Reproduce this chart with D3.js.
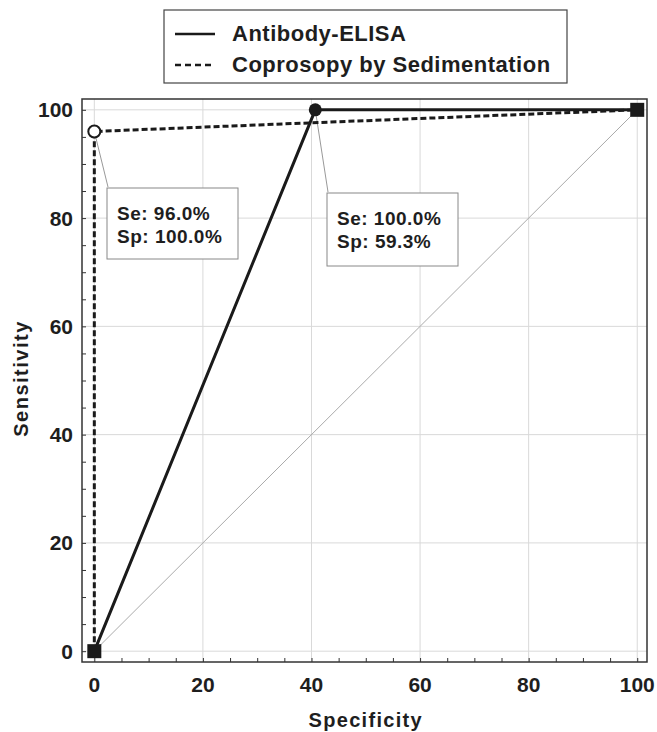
<!DOCTYPE html>
<html>
<head>
<meta charset="utf-8">
<script src="https://cdn.jsdelivr.net/npm/d3@7"></script>
<style>
  body { margin: 0; background: #fff; }
  text { font-family: "Liberation Sans", Arial, sans-serif; font-weight: bold; fill: #1e1e1e; }
</style>
</head>
<body>
<div id="chart"></div>
<script>
// data
var seriesNames = ["Antibody-ELISA", "Coprosopy by Sedimentation"];
var elisaX = [0, 40.7, 100];
var elisaY = [0, 100, 100];
var coproX = [0, 0, 100];
var coproY = [0, 96, 100];
var tickValues = [0, 20, 40, 60, 80, 100];
var cutoffLabels = [["Se: 96.0%", "Sp: 100.0%"], ["Se: 100.0%", "Sp: 59.3%"]];

var svgWidth = 657;
var svgHeight = 732;

var frame = { left: 82, right: 647, top: 99, bottom: 662 };

var svg = d3.select("#chart")
  .append("svg")
  .attr("width", svgWidth)
  .attr("height", svgHeight);

var x = d3.scaleLinear().domain([-2.27, 101.8]).range([frame.left, frame.right]);
var y = d3.scaleLinear().domain([-2.0, 102.0]).range([frame.bottom, frame.top]);

// grid
svg.append("g").selectAll("line.gx")
  .data(tickValues).enter().append("line")
  .attr("x1", d => x(d)).attr("x2", d => x(d))
  .attr("y1", frame.top).attr("y2", frame.bottom)
  .attr("stroke", "#d9d9d9").attr("stroke-width", 1);
svg.append("g").selectAll("line.gy")
  .data(tickValues).enter().append("line")
  .attr("y1", d => y(d)).attr("y2", d => y(d))
  .attr("x1", frame.left).attr("x2", frame.right)
  .attr("stroke", "#d9d9d9").attr("stroke-width", 1);

// diagonal reference
svg.append("line")
  .attr("x1", x(0)).attr("y1", y(0))
  .attr("x2", x(100)).attr("y2", y(100))
  .attr("stroke", "#aaa").attr("stroke-width", 1);

// axes with inward minor ticks
var minor = d3.range(0, 101, 5);
var bottomAxis = d3.axisBottom(x).tickValues(minor).tickSize(-4).tickFormat("");
var leftAxis = d3.axisLeft(y).tickValues(minor).tickSize(-4).tickFormat("");

var gx = svg.append("g").attr("transform", `translate(0, ${frame.bottom})`).call(bottomAxis);
var gy = svg.append("g").attr("transform", `translate(${frame.left}, 0)`).call(leftAxis);
gx.select(".domain").remove();
gy.select(".domain").remove();
svg.selectAll(".tick line").attr("stroke", "#333");

svg.append("rect")
  .attr("x", frame.left).attr("y", frame.top)
  .attr("width", frame.right - frame.left).attr("height", frame.bottom - frame.top)
  .attr("fill", "none").attr("stroke", "#333").attr("stroke-width", 1.5);

// tick labels
svg.append("g").selectAll("text")
  .data(tickValues).enter().append("text")
  .attr("x", d => x(d)).attr("y", 692)
  .attr("text-anchor", "middle")
  .attr("font-size", 21)
  .text(d => d);
svg.append("g").selectAll("text")
  .data(tickValues).enter().append("text")
  .attr("x", 73).attr("y", d => y(d) + 7.5)
  .attr("text-anchor", "end")
  .attr("font-size", 21)
  .text(d => d);

// axis titles
svg.append("text")
  .attr("x", x(50)).attr("y", 727)
  .attr("text-anchor", "middle")
  .attr("font-size", 20)
  .attr("letter-spacing", 1.3)
  .text("Specificity");
svg.append("text")
  .attr("transform", `translate(28, ${y(50) - 2}) rotate(-90)`)
  .attr("text-anchor", "middle")
  .attr("font-size", 20)
  .attr("letter-spacing", 1.5)
  .text("Sensitivity");

// annotation leader lines and boxes
var boxes = [
  { px: coproX[1], py: coproY[1], bx: 107, by: 188, bw: 131, bh: 71 },
  { px: elisaX[1], py: elisaY[1], bx: 327, by: 193, bw: 131, bh: 73 }
];
boxes.forEach(function(b, i) {
  svg.append("line")
    .attr("x1", x(b.px)).attr("y1", y(b.py))
    .attr("x2", b.bx + 1).attr("y2", b.by - 1)
    .attr("stroke", "#999").attr("stroke-width", 1);
  svg.append("rect")
    .attr("x", b.bx).attr("y", b.by).attr("width", b.bw).attr("height", b.bh)
    .attr("fill", "#fff").attr("stroke", "#888").attr("stroke-width", 1);
  cutoffLabels[i].forEach(function(t, j) {
    svg.append("text")
      .attr("x", b.bx + 10).attr("y", b.by + 32 + j * 23)
      .attr("font-size", 19)
      .attr("letter-spacing", 0.5)
      .text(t);
  });
});

// curves
var line = d3.line().x(d => x(d[0])).y(d => y(d[1]));
var elisa = d3.zip(elisaX, elisaY);
var copro = d3.zip(coproX, coproY);

svg.append("path").datum(copro)
  .attr("d", line).attr("fill", "none")
  .attr("stroke", "#1a1a1a").attr("stroke-width", 3)
  .attr("stroke-dasharray", "6,3");
svg.append("path").datum(elisa)
  .attr("d", line).attr("fill", "none")
  .attr("stroke", "#1a1a1a").attr("stroke-width", 3);

// end squares
svg.selectAll("rect.sq")
  .data([[elisaX[0], elisaY[0]], [elisaX[2], elisaY[2]]])
  .enter().append("rect")
  .attr("x", d => x(d[0]) - 7).attr("y", d => y(d[1]) - 7)
  .attr("width", 14).attr("height", 14)
  .attr("fill", "#1a1a1a");

// cut-off points
svg.append("circle")
  .attr("cx", x(elisaX[1])).attr("cy", y(elisaY[1])).attr("r", 6.5)
  .attr("fill", "#1a1a1a");
svg.append("circle")
  .attr("cx", x(coproX[1])).attr("cy", y(coproY[1])).attr("r", 6)
  .attr("fill", "#fff").attr("stroke", "#1a1a1a").attr("stroke-width", 2);

// legend
var legend = svg.append("g");
legend.append("rect")
  .attr("x", 164).attr("y", 10).attr("width", 403).attr("height", 73)
  .attr("fill", "#fff").attr("stroke", "#444").attr("stroke-width", 1.2);
seriesNames.forEach(function(name, i) {
  var ly = 34 + i * 31;
  legend.append("line")
    .attr("x1", 175).attr("x2", 215).attr("y1", ly).attr("y2", ly)
    .attr("stroke", "#1a1a1a").attr("stroke-width", 2.5)
    .attr("stroke-dasharray", i === 1 ? "6,4" : null);
  legend.append("text")
    .attr("x", 232).attr("y", ly + 7)
    .attr("font-size", 22)
    .attr("letter-spacing", 0.5)
    .text(name);
});
</script>
</body>
</html>
